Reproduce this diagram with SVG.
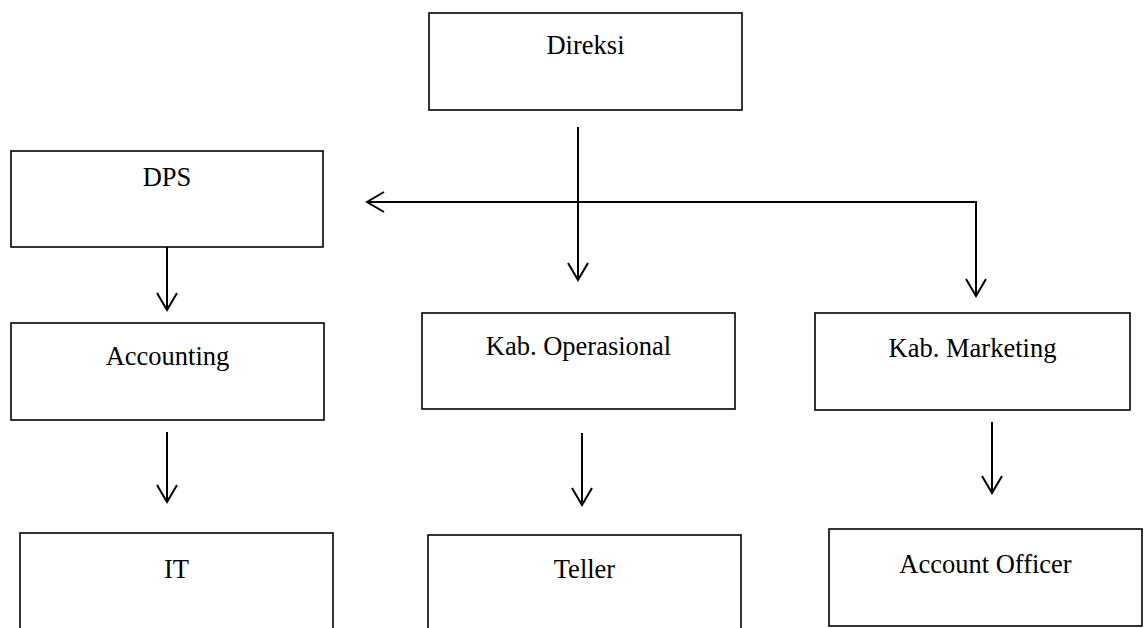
<svg xmlns="http://www.w3.org/2000/svg" width="1148" height="628" viewBox="0 0 1148 628">
<style>
.box{fill:#fff;stroke:#000;stroke-width:1.6}
.lbl{font-family:"Liberation Serif","Times New Roman",serif;font-size:26.5px;fill:#000;text-anchor:middle}
.conn{fill:none;stroke:#000;stroke-width:2}
</style>
<defs>
<marker id="arr" markerUnits="userSpaceOnUse" viewBox="-20 -12 24 24" markerWidth="24" markerHeight="24" refX="0" refY="0" orient="auto" overflow="visible">
<path d="M-17,-10 L0,0 L-17,10" fill="none" stroke="#000" stroke-width="2"/>
</marker>
</defs>
<rect width="1148" height="628" fill="#fff"/>
<g id="direksi"><rect class="box" x="429" y="13" width="313" height="97"/><text class="lbl" x="585.5" y="54">Direksi</text></g>
<g id="dps"><rect class="box" x="11" y="151" width="312" height="96"/><text class="lbl" x="167" y="186">DPS</text></g>
<g id="accounting"><rect class="box" x="11" y="323" width="313" height="97"/><text class="lbl" x="167.5" y="365">Accounting</text></g>
<g id="kab-operasional"><rect class="box" x="422" y="313" width="313" height="96"/><text class="lbl" x="578.5" y="355">Kab. Operasional</text></g>
<g id="kab-marketing"><rect class="box" x="815" y="313" width="315" height="97"/><text class="lbl" x="972.5" y="357">Kab. Marketing</text></g>
<g id="it"><rect class="box" x="20" y="533" width="313" height="110"/><text class="lbl" x="176.5" y="578">IT</text></g>
<g id="teller"><rect class="box" x="428" y="535" width="313" height="110"/><text class="lbl" x="584.5" y="578">Teller</text></g>
<g id="account-officer"><rect class="box" x="829" y="529" width="313" height="97"/><text class="lbl" x="985.5" y="573">Account Officer</text></g>
<g id="connectors">
<path class="conn" d="M578,127 L578,280" marker-end="url(#arr)"/>
<path class="conn" d="M976,202 L367,202" marker-end="url(#arr)"/>
<path class="conn" d="M976,201 L976,296" marker-end="url(#arr)"/>
<path class="conn" d="M167,247 L167,310" marker-end="url(#arr)"/>
<path class="conn" d="M167,432 L167,502" marker-end="url(#arr)"/>
<path class="conn" d="M582,433 L582,505" marker-end="url(#arr)"/>
<path class="conn" d="M992,422 L992,493" marker-end="url(#arr)"/>
</g>
</svg>
